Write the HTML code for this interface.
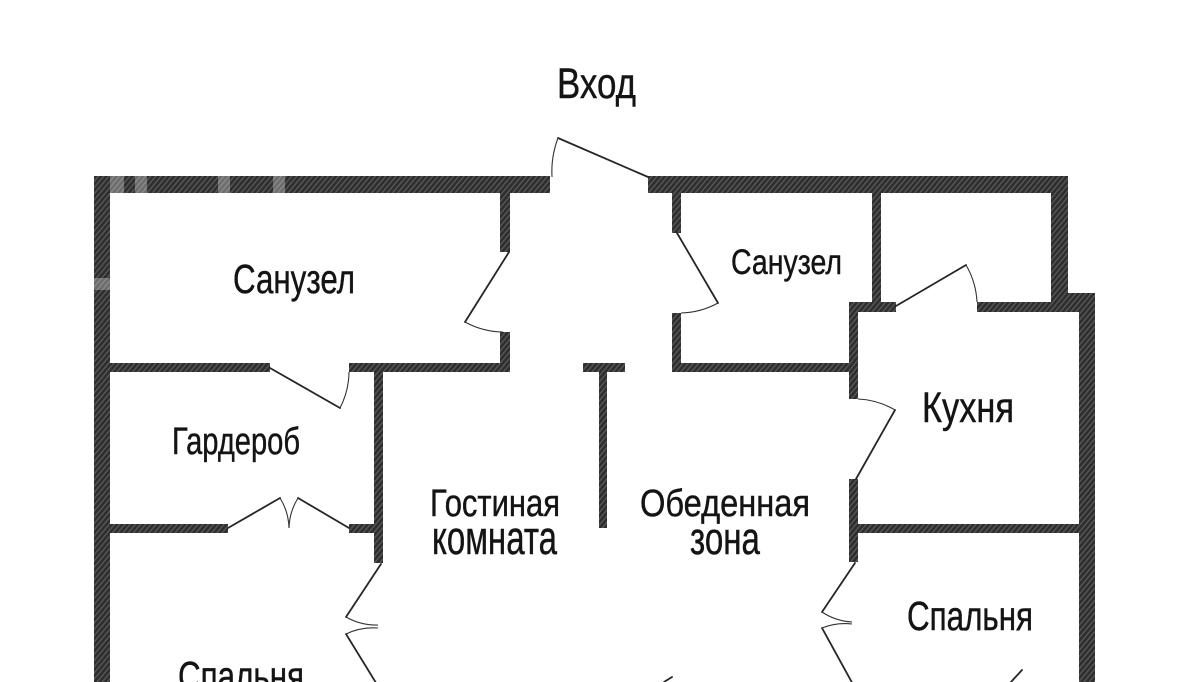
<!DOCTYPE html>
<html>
<head>
<meta charset="utf-8">
<style>
html,body{margin:0;padding:0;background:#fff;}
svg{display:block;}
text{font-family:"Liberation Sans Narrow","Liberation Sans","DejaVu Sans",sans-serif;fill:#141414;stroke:#141414;stroke-width:0.45;}
</style>
</head>
<body>
<svg width="1200" height="682" viewBox="0 0 1200 682" xmlns="http://www.w3.org/2000/svg">
<defs>
<pattern id="h" width="4" height="4" patternUnits="userSpaceOnUse" patternTransform="rotate(40)">
<rect width="4" height="4" fill="#2e2e2e"/>
<rect x="0" y="0" width="1.3" height="4" fill="#5a5a5a"/>
</pattern>
</defs>
<rect width="1200" height="682" fill="#ffffff"/>

<g fill="url(#h)">
<!-- outer walls -->
<rect x="94" y="176" width="456" height="17"/>
<rect x="648" y="176" width="420" height="17"/>
<rect x="94" y="176" width="16" height="506"/>
<rect x="1051" y="176" width="17" height="126"/>
<rect x="1051" y="293" width="44" height="19"/>
<rect x="1079" y="293" width="16" height="389"/>
<!-- kitchen top wall -->
<rect x="849" y="302" width="47" height="10"/>
<rect x="977" y="302" width="103" height="10"/>
<!-- divider between sanuzel and small room -->
<rect x="872" y="193" width="9" height="109"/>
<!-- sanuzel mid -->
<rect x="672" y="193" width="9" height="40"/>
<rect x="672" y="313" width="9" height="59"/>
<rect x="672" y="363" width="186" height="9"/>
<!-- kitchen left wall -->
<rect x="849" y="302" width="9" height="97"/>
<rect x="849" y="479" width="9" height="83"/>
<!-- kitchen / bedroom wall -->
<rect x="858" y="524" width="222" height="9"/>
<!-- T wall -->
<rect x="583" y="363" width="42" height="9"/>
<rect x="599" y="372" width="8" height="156"/>
<!-- sanuzel left -->
<rect x="500" y="193" width="10" height="59"/>
<rect x="500" y="332" width="10" height="40"/>
<rect x="110" y="363" width="160" height="9"/>
<rect x="349" y="363" width="161" height="9"/>
<!-- garderob -->
<rect x="374" y="363" width="9" height="200"/>
<rect x="110" y="524" width="118" height="9"/>
<rect x="349" y="524" width="34" height="9"/>
</g>

<!-- watermark light patches on walls -->
<g fill="#ffffff" opacity="0.3">
<rect x="110" y="176" width="14" height="17"/>
<rect x="135" y="176" width="12" height="17"/>
<rect x="218" y="176" width="12" height="17"/>
<rect x="273" y="176" width="12" height="17"/>
<rect x="94" y="278" width="16" height="12"/>
</g>

<!-- doors -->
<g fill="none" stroke="#262626" stroke-width="1.8" stroke-linecap="round">
<path d="M648,177 L558,138"/>
<path d="M509,252 L465,322"/>
<path d="M270,368 L340,408"/>
<path d="M228,528 L280,498"/>
<path d="M349,528 L298,498"/>
<path d="M381,564 L346,617"/>
<path d="M381,691 L346,634"/>
<path d="M677,233 L718,303"/>
<path d="M896,306 L966,265"/>
<path d="M856,479 L895,410"/>
<path d="M855,563 L822,612"/>
<path d="M855,688 L822,628"/>
<path d="M664,682 L672,677"/>
<path d="M1011,682 L1022,670"/>
</g>
<g fill="none" stroke="#333" stroke-width="1.1">
<path d="M558,138 A95,95 0 0 0 552,177"/>
<path d="M465,322 A81,81 0 0 0 503,332"/>
<path d="M340,408 A80,80 0 0 0 349,372"/>
<path d="M280,498 A60,60 0 0 1 289,528"/>
<path d="M298,498 A60,60 0 0 0 289,528"/>
<path d="M346,617 A62,62 0 0 0 378,625"/>
<path d="M346,634 A63,63 0 0 1 378,628"/>
<path d="M718,303 A81,81 0 0 1 681,313"/>
<path d="M966,265 A81,81 0 0 1 977,302"/>
<path d="M895,410 A80,80 0 0 0 858,399"/>
<path d="M822,612 A60,60 0 0 0 852,622"/>
<path d="M822,628 A62,62 0 0 1 852,624"/>
</g>

<!-- labels -->
<text x="557" y="98" font-size="43" textLength="79" lengthAdjust="spacingAndGlyphs">Вход</text>
<text x="233" y="293" font-size="41" textLength="122" lengthAdjust="spacingAndGlyphs">Санузел</text>
<text x="731" y="274" font-size="35" textLength="111" lengthAdjust="spacingAndGlyphs">Санузел</text>
<text x="172" y="454" font-size="38" textLength="128" lengthAdjust="spacingAndGlyphs">Гардероб</text>
<text x="922" y="422" font-size="43" textLength="92" lengthAdjust="spacingAndGlyphs">Кухня</text>
<text x="430" y="516" font-size="38" textLength="130" lengthAdjust="spacingAndGlyphs">Гостиная</text>
<text x="432" y="554" font-size="47" textLength="125" lengthAdjust="spacingAndGlyphs">комната</text>
<text x="640" y="516" font-size="38" textLength="170" lengthAdjust="spacingAndGlyphs">Обеденная</text>
<text x="690" y="554" font-size="45" textLength="70" lengthAdjust="spacingAndGlyphs">зона</text>
<text x="907" y="630" font-size="41" textLength="126" lengthAdjust="spacingAndGlyphs">Спальня</text>
<text x="178" y="690" font-size="41" textLength="126" lengthAdjust="spacingAndGlyphs">Спальня</text>
</svg>
</body>
</html>
